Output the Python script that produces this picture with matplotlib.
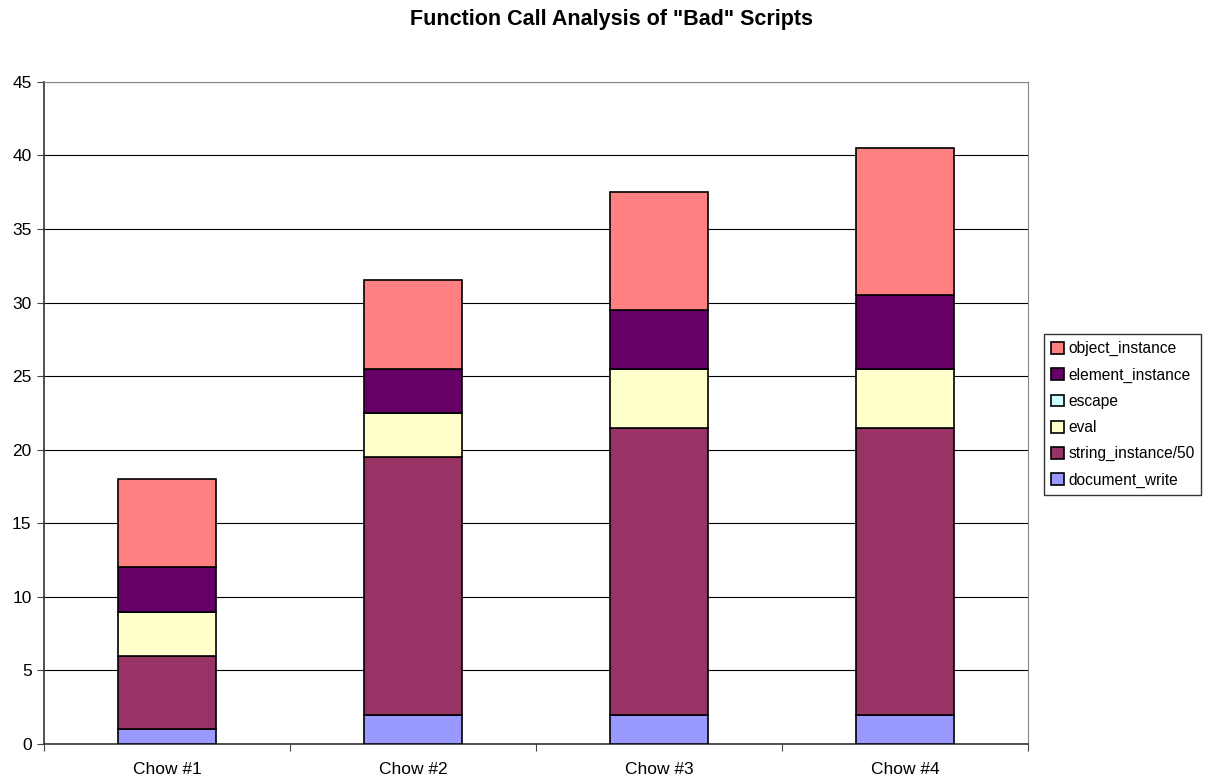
import numpy as np
import matplotlib.pyplot as plt

plt.rcParams['font.family'] = ['Liberation Sans', 'DejaVu Sans']

scripts = ['Chow #1', 'Chow #2', 'Chow #3', 'Chow #4']
document_write = [1, 2, 2, 2]
string_instance = [5, 17.5, 19.5, 19.5]
eval_calls = [3, 3, 4, 4]
escape = [0, 0, 0, 0]
element_instance = [3, 3, 4, 5]
object_instance = [6, 6, 8, 10]

series = [
    ('document_write', document_write, '#9999ff'),
    ('string_instance/50', string_instance, '#993366'),
    ('eval', eval_calls, '#ffffcc'),
    ('escape', escape, '#ccffff'),
    ('element_instance', element_instance, '#660066'),
    ('object_instance', object_instance, '#ff8080'),
]

fig = plt.figure(figsize=(12.24, 7.79), dpi=100)
ax = fig.add_axes([0.036, 0.045, 0.804, 0.85])

x = np.arange(len(scripts))
bottom = np.zeros(len(scripts))
handles = []
for name, vals, col in series:
    vals = np.array(vals, dtype=float)
    b = ax.bar(x, vals, 0.4, bottom=bottom, color=col, edgecolor='black',
               linewidth=1.2, label=name, zorder=3)
    handles.append(b)
    bottom += vals

ax.set_xlim(-0.5, len(scripts) - 0.5)
ax.set_ylim(0, 45)
ax.set_yticks(np.arange(0, 46, 5))
ax.yaxis.grid(True, color='black', linewidth=0.8, zorder=0)
ax.set_xticks(x)
ax.set_xticklabels(scripts)
ax.set_xticks(np.arange(-0.5, len(scripts)), minor=True)
ax.tick_params(axis='x', which='major', length=0, labelsize=12.5, pad=13)
ax.tick_params(axis='x', which='minor', length=5, width=0.8, color='#444444')
ax.tick_params(axis='y', length=5, width=0.8, labelsize=12.5, pad=4, color='#444444')

for side in ['top', 'right']:
    ax.spines[side].set_color('#888888')
    ax.spines[side].set_linewidth(0.8)
for side in ['left', 'bottom']:
    ax.spines[side].set_color('#333333')
    ax.spines[side].set_linewidth(1.2)

fig.suptitle('Function Call Analysis of "Bad" Scripts', fontsize=15.5,
             fontweight='bold', y=0.988)

leg = fig.legend(handles[::-1], [s[0] for s in series][::-1],
                 loc='upper left', bbox_to_anchor=(0.853, 0.571),
                 borderaxespad=0, fontsize=11.2, frameon=True, fancybox=False,
                 edgecolor='black', handlelength=0.8, handleheight=0.8,
                 handletextpad=0.3, labelspacing=0.72, borderpad=0.45)
leg.get_frame().set_linewidth(1.0)

plt.savefig('out.png', dpi=100)
